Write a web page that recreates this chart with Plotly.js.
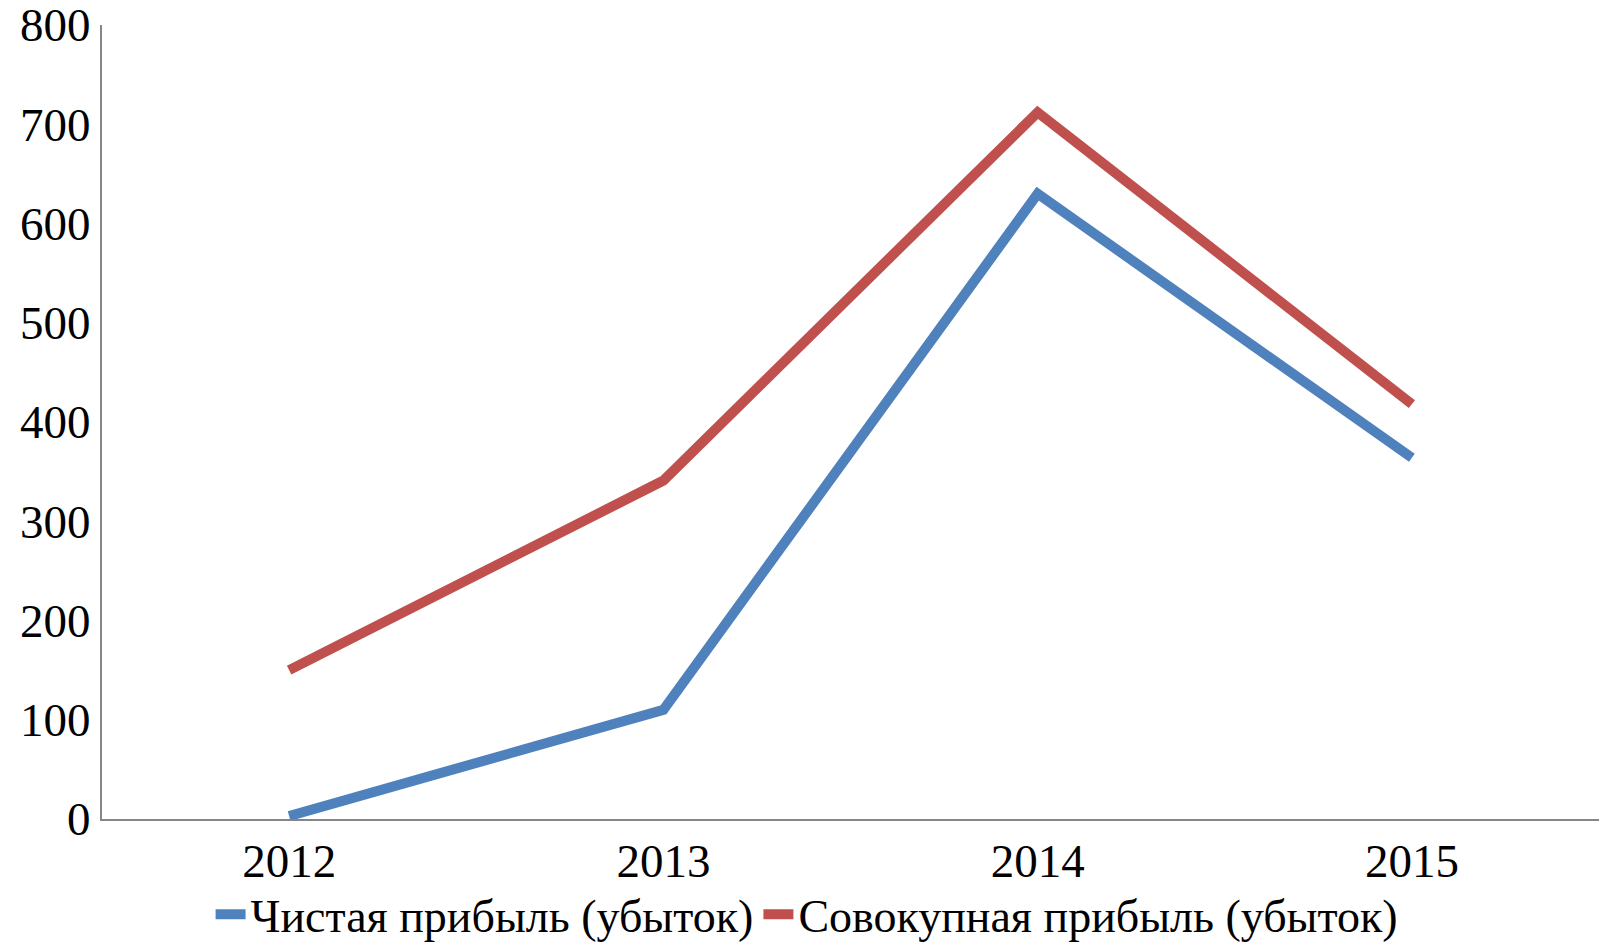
<!DOCTYPE html>
<html>
<head>
<meta charset="utf-8">
<script src="https://cdn.plot.ly/plotly-3.0.1.min.js"></script>
<style>html,body{margin:0;padding:0;background:#fff;}#chart{width:1604px;height:949px;}</style>
</head>
<body>
<div id="chart"></div>
<script>
const years = ["2012", "2013", "2014", "2015"];
const netProfit = [3, 110, 630, 364];
const totalProfit = [150, 341, 712, 418];
const seriesNames = ["Чистая прибыль (убыток)", "Совокупная прибыль (убыток)"];
const yTicks = [0, 100, 200, 300, 400, 500, 600, 700, 800];

const font = "Liberation Serif, Times New Roman, serif";
const traces = [
  {x: years, y: netProfit, name: seriesNames[0], type: "scatter", mode: "lines",
   line: {color: "#4F81BD", width: 10}},
  {x: years, y: totalProfit, name: seriesNames[1], type: "scatter", mode: "lines",
   line: {color: "#C0504D", width: 10}}
];
const layout = {
  width: 1604, height: 949,
  margin: {l: 102, r: 5, t: 25, b: 130, autoexpand: false},
  paper_bgcolor: "#fff", plot_bgcolor: "#fff",
  font: {family: font, size: 47, color: "#000"},
  showlegend: true,
  legend: {orientation: "h", x: 0.471, xanchor: "center", y: -0.074, yanchor: "top",
           font: {family: font, size: 46, color: "#000"}, itemwidth: 30, tracegroupgap: 0},
  xaxis: {type: "category", range: [-0.5, 3.5], showgrid: false, zeroline: false,
          showline: true, linecolor: "#868686", linewidth: 2, ticks: "",
          tickfont: {family: font, size: 47}, ticklabelstandoff: 0, ticklabeloverflow: "allow"},
  yaxis: {range: [0, 800], tickvals: yTicks, showgrid: false, zeroline: false,
          showline: true, linecolor: "#868686", linewidth: 2, ticks: "",
          tickfont: {family: font, size: 47}, ticklabelstandoff: 0, ticklabeloverflow: "allow"}
};
Plotly.newPlot("chart", traces, layout, {staticPlot: true});
</script>
</body>
</html>
